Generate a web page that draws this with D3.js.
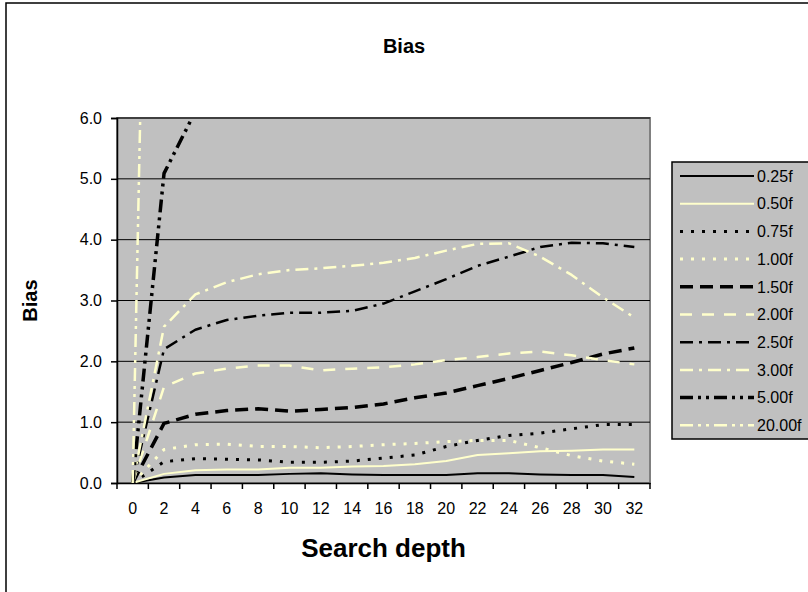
<!DOCTYPE html>
<html lang="en">
<head>
<meta charset="UTF-8">
<title>Bias</title>
<script src="https://d3js.org/d3.v7.min.js"></script>
<style>
  body { margin: 0; background: #fff; }
  svg { display: block; font-family: "Liberation Sans", Arial, sans-serif; }
</style>
</head>
<body>
<svg width="808" height="592"></svg>
<script>
// categories (search depth) and y ticks
const depths = [0, 2, 4, 6, 8, 10, 12, 14, 16, 18, 20, 22, 24, 26, 28, 30, 32];
const yTicks = [0, 1, 2, 3, 4, 5, 6];
const seriesNames = ["0.25f", "0.50f", "0.75f", "1.00f", "1.50f", "2.00f", "2.50f", "3.00f", "5.00f", "20.00f"];

// values, one per depth
const s025 = [0, 0.09, 0.13, 0.13, 0.13, 0.15, 0.16, 0.14, 0.13, 0.13, 0.13, 0.16, 0.16, 0.14, 0.13, 0.13, 0.10];
const s050 = [0, 0.15, 0.21, 0.22, 0.22, 0.25, 0.25, 0.27, 0.28, 0.31, 0.36, 0.46, 0.49, 0.52, 0.53, 0.55, 0.55];
const s075 = [0, 0.35, 0.40, 0.39, 0.38, 0.34, 0.34, 0.36, 0.41, 0.46, 0.60, 0.70, 0.78, 0.82, 0.89, 0.96, 0.96];
const s100 = [0, 0.55, 0.63, 0.64, 0.60, 0.60, 0.58, 0.60, 0.63, 0.65, 0.68, 0.70, 0.70, 0.58, 0.45, 0.36, 0.31];
const s150 = [0, 0.98, 1.13, 1.19, 1.22, 1.18, 1.21, 1.24, 1.30, 1.40, 1.48, 1.60, 1.72, 1.85, 1.98, 2.12, 2.22];
const s200 = [0, 1.58, 1.80, 1.88, 1.93, 1.93, 1.85, 1.88, 1.90, 1.95, 2.02, 2.07, 2.13, 2.16, 2.10, 2.02, 1.95];
const s250 = [0, 2.20, 2.52, 2.68, 2.75, 2.80, 2.80, 2.83, 2.95, 3.15, 3.35, 3.57, 3.72, 3.88, 3.95, 3.94, 3.88];
const s300 = [0, 2.57, 3.10, 3.30, 3.43, 3.50, 3.53, 3.57, 3.62, 3.70, 3.82, 3.93, 3.94, 3.72, 3.42, 3.05, 2.72];
const s500 = [0, 5.09, 6.11, 6.60, 6.90, 7.10, 7.30, 7.50, 7.60, 7.80, 7.90, 8.00, 8.10, 8.20, 8.30, 8.40, 8.50];
const s2000 = [0, 25.0, 26.0, 26.5, 27.0, 27.3, 27.6, 27.8, 28.0, 28.2, 28.4, 28.5, 28.6, 28.7, 28.8, 28.9, 29.0];
const seriesValues = [s025, s050, s075, s100, s150, s200, s250, s300, s500, s2000];

// line look for each series
const YEL = "#ffffcc";
const styles = [
  { color: "#000", width: 2, dash: null },
  { color: YEL, width: 2, dash: null },
  { color: "#000", width: 3, dash: "3 8" },
  { color: YEL, width: 3, dash: "3 8" },
  { color: "#000", width: 3.5, dash: "13 7" },
  { color: YEL, width: 2.5, dash: "12 10" },
  { color: "#000", width: 2.5, dash: "13 6 3 6" },
  { color: YEL, width: 2.5, dash: "13 6 3 6" },
  { color: "#000", width: 3.5, dash: "13 5 3 5 3 5" },
  { color: YEL, width: 2.5, dash: "13 5 3 5 3 5" }
];

const svg = d3.select("svg");
const plot = { left: 117, right: 650, top: 118, bottom: 483 };

const x = d3.scaleBand().domain(depths).range([plot.left, plot.right]);
const y = d3.scaleLinear().domain([0, 6]).range([plot.bottom, plot.top]);
const cx = d => x(d) + x.bandwidth() / 2;

// chart frame
svg.append("rect")
  .attr("x", 6).attr("y", 3).attr("width", 900).attr("height", 700)
  .attr("fill", "#fff").attr("stroke", "#000").attr("stroke-width", 1.5);

// plot area
svg.append("rect")
  .attr("x", plot.left).attr("y", plot.top)
  .attr("width", plot.right - plot.left).attr("height", plot.bottom - plot.top)
  .attr("fill", "#c0c0c0").attr("stroke", "#808080").attr("stroke-width", 2);

svg.append("g").selectAll("line")
  .data(yTicks.filter(v => v > 0))
  .join("line")
  .attr("x1", plot.left).attr("x2", plot.right)
  .attr("y1", d => y(d)).attr("y2", d => y(d))
  .attr("stroke", "#000").attr("stroke-width", 1);

// y axis
const yAxis = svg.append("g")
  .attr("transform", `translate(${plot.left},0)`)
  .call(d3.axisLeft(y).tickValues(yTicks).tickFormat(d3.format(".1f")).tickSize(6).tickPadding(9));
yAxis.attr("font-family", null);
yAxis.selectAll("line, path").attr("stroke", "#000").attr("stroke-width", 1.5);
yAxis.selectAll("text").attr("font-size", 16).attr("fill", "#000");

// x axis: labels centred on categories, ticks between them
const xAxis = svg.append("g")
  .attr("transform", `translate(0,${plot.bottom})`)
  .call(d3.axisBottom(x).tickSize(0).tickPadding(20).tickSizeOuter(0));
xAxis.attr("font-family", null);
xAxis.select(".domain").attr("stroke", "#000").attr("stroke-width", 1.5);
xAxis.selectAll("text").attr("font-size", 16).attr("fill", "#000");

svg.append("g").selectAll("line")
  .data(depths.map(d => x(d)).concat([plot.right]))
  .join("line")
  .attr("x1", d => d).attr("x2", d => d)
  .attr("y1", plot.bottom).attr("y2", plot.bottom + 6)
  .attr("stroke", "#000").attr("stroke-width", 1.5);

// series
svg.append("clipPath").attr("id", "clip")
  .append("rect")
  .attr("x", plot.left).attr("y", plot.top)
  .attr("width", plot.right - plot.left).attr("height", plot.bottom - plot.top);

const line = d3.line().x((d, i) => cx(depths[i])).y(d => y(d));

svg.append("g").attr("clip-path", "url(#clip)")
  .selectAll("path")
  .data(seriesValues)
  .join("path")
  .attr("d", d => line(d))
  .attr("fill", "none")
  .attr("stroke", (d, i) => styles[i].color)
  .attr("stroke-width", (d, i) => styles[i].width)
  .attr("stroke-dasharray", (d, i) => styles[i].dash)
  .attr("stroke-linejoin", "round");

// titles
svg.append("text")
  .attr("x", 404).attr("y", 53)
  .attr("text-anchor", "middle")
  .attr("font-size", 20).attr("font-weight", "bold")
  .text("Bias");

svg.append("text")
  .attr("transform", `translate(37,${(plot.top + plot.bottom) / 2}) rotate(-90)`)
  .attr("text-anchor", "middle")
  .attr("font-size", 20).attr("font-weight", "bold")
  .text("Bias");

svg.append("text")
  .attr("x", (plot.left + plot.right) / 2).attr("y", 557)
  .attr("text-anchor", "middle")
  .attr("font-size", 26).attr("font-weight", "bold")
  .text("Search depth");

// legend
const legend = svg.append("g");
legend.append("rect")
  .attr("x", 672).attr("y", 162).attr("width", 160).attr("height", 277)
  .attr("fill", "#c0c0c0").attr("stroke", "#000").attr("stroke-width", 1.5);

const item = legend.selectAll("g.item")
  .data(seriesNames)
  .join("g")
  .attr("class", "item")
  .attr("transform", (d, i) => `translate(0,${176 + i * 27.7})`);

item.append("line")
  .attr("x1", 680).attr("x2", 754)
  .attr("stroke", (d, i) => styles[i].color)
  .attr("stroke-width", (d, i) => styles[i].width)
  .attr("stroke-dasharray", (d, i) => styles[i].dash);

item.append("text")
  .attr("x", 757).attr("dy", "0.36em")
  .attr("font-size", 16)
  .text(d => d);
</script>
</body>
</html>
